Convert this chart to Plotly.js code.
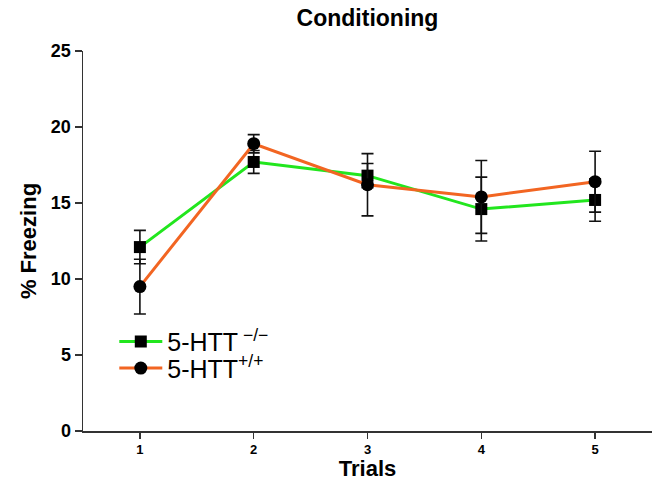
<!DOCTYPE html>
<html>
<head>
<meta charset="utf-8">
<script src="https://cdn.plot.ly/plotly-3.0.1.min.js"></script>
<style>html,body{margin:0;padding:0;background:#fff;}#chart{width:656px;height:481px;}</style>
</head>
<body>
<div id="chart"></div>
<script>
const trials = [1, 2, 3, 4, 5];
const koMean = [12.1, 17.7, 16.8, 14.6, 15.2];
const koErr = [1.1, 0.75, 0.8, 2.1, 1.4];
const wtMean = [9.5, 18.9, 16.2, 15.4, 16.4];
const wtErr = [1.8, 0.6, 2.05, 2.4, 2.0];
const seriesNames = ['5-HTT<sup> −/−</sup>', '5-HTT<sup>+/+</sup>'];
const yTicks = [0, 5, 10, 15, 20, 25];

const FONT = 'Liberation Sans, Arial, Helvetica, sans-serif';
const errStyle = {type: 'data', visible: true, color: '#111', thickness: 1.6, width: 6};

const traces = [
  {
    x: trials, y: koMean, name: seriesNames[0], type: 'scatter', mode: 'lines+markers',
    line: {color: '#22e61e', width: 3},
    marker: {symbol: 'square', size: 12, color: '#000'},
    error_y: Object.assign({array: koErr}, errStyle),
    legend: 'legend'
  },
  {
    x: trials, y: wtMean, name: seriesNames[1], type: 'scatter', mode: 'lines+markers',
    line: {color: '#f26522', width: 3},
    marker: {symbol: 'circle', size: 13, color: '#000'},
    error_y: Object.assign({array: wtErr}, errStyle),
    legend: 'legend2'
  }
];

const legendBase = {xanchor: 'left', yanchor: 'middle', bgcolor: 'rgba(0,0,0,0)',
  font: {size: 25, family: FONT, color: '#000'}, itemwidth: 43};

const layout = {
  width: 656, height: 481,
  margin: {l: 83, r: 4, t: 51, b: 50},
  paper_bgcolor: '#fff', plot_bgcolor: '#fff',
  font: {family: FONT, color: '#000'},
  title: {text: '<b>Conditioning</b>', x: 0.5, xanchor: 'center', xref: 'paper', y: 0.9626, yanchor: 'middle', font: {size: 23, family: FONT, color: '#000'}},
  xaxis: {
    range: [0.5, 5.5], tickvals: trials, ticktext: trials.map(String),
    showgrid: false, zeroline: false, showline: true, linecolor: '#333', linewidth: 1.5,
    ticks: 'outside', ticklen: 6, tickwidth: 1.5, tickcolor: '#333',
    tickfont: {size: 13, family: FONT, color: '#000', weight: 'bold'},
    title: {text: '<b>Trials</b>', font: {size: 22, family: FONT, color: '#000'}, standoff: 3}
  },
  yaxis: {
    range: [0, 25], tickvals: yTicks,
    showgrid: false, zeroline: false, showline: true, linecolor: '#333', linewidth: 1.5,
    ticks: 'outside', ticklen: 7, tickwidth: 1.5, tickcolor: '#333',
    tickfont: {size: 18, family: FONT, color: '#000', weight: 'bold'},
    title: {text: '<b>% Freezing</b>', font: {size: 22, family: FONT, color: '#000'}, standoff: 8}
  },
  showlegend: true,
  legend: Object.assign({x: 0.055, y: 0.235}, legendBase),
  legend2: Object.assign({x: 0.055, y: 0.165}, legendBase)
};

Plotly.newPlot('chart', traces, layout, {displayModeBar: false, staticPlot: true});
</script>
</body>
</html>
